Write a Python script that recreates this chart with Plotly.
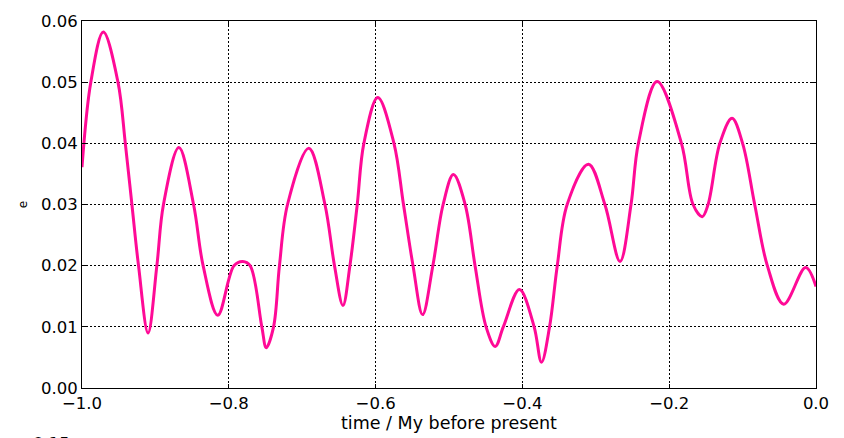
import plotly.graph_objects as go

# time (My before present) and eccentricity e
time = [-1.000, -0.988, -0.971, -0.951, -0.941, -0.932, -0.923, -0.910,
        -0.898, -0.889, -0.868, -0.848, -0.835, -0.815, -0.793, -0.781, -0.771, -0.755,
        -0.749, -0.739, -0.731, -0.720, -0.691, -0.669, -0.656, -0.6445, -0.635, -0.625,
        -0.616, -0.597, -0.575, -0.562, -0.549, -0.536, -0.522, -0.508, -0.494, -0.478,
        -0.4645, -0.4495, -0.437, -0.426, -0.404, -0.384, -0.374, -0.363, -0.3525, -0.339,
        -0.310, -0.2876, -0.267, -0.252, -0.242, -0.2165, -0.1833, -0.1675, -0.155, -0.147,
        -0.131, -0.1144, -0.100, -0.0835, -0.0663, -0.044, -0.0141, 0.000]
ecc = [0.0361, 0.0500, 0.0582, 0.0500, 0.0400, 0.0300, 0.0200, 0.0090,
       0.0200, 0.0300, 0.0393, 0.0300, 0.0200, 0.0119, 0.0200, 0.0207, 0.0200, 0.0100,
       0.0066, 0.0100, 0.0200, 0.0300, 0.0392, 0.0300, 0.0200, 0.0135, 0.0200, 0.0300,
       0.0400, 0.0475, 0.0400, 0.0300, 0.0200, 0.0120, 0.0200, 0.0300, 0.0349, 0.0300,
       0.0200, 0.0100, 0.0068, 0.0100, 0.0161, 0.0100, 0.0042, 0.0100, 0.0200, 0.0300,
       0.0366, 0.0300, 0.0207, 0.0300, 0.0400, 0.0501, 0.0400, 0.0300, 0.0280, 0.0300,
       0.0400, 0.0441, 0.0400, 0.0300, 0.0200, 0.0137, 0.0197, 0.0166]

x_ticks = [-1.0, -0.8, -0.6, -0.4, -0.2, 0.0]
y_ticks = [0.00, 0.01, 0.02, 0.03, 0.04, 0.05, 0.06]
cut_label = "0.15"

FONT = "DejaVu Sans"
FS = 16.5

fig = go.Figure()
fig.add_trace(go.Scatter(
    x=time, y=ecc, mode="lines",
    line=dict(color="#ff0a96", width=3, shape="spline", smoothing=1.0),
    showlegend=False,
))

axis_common = dict(
    showline=True, linecolor="black", linewidth=1, mirror="allticks",
    ticks="inside", ticklen=4, tickwidth=1, tickcolor="black",
    showgrid=True, gridcolor="black", gridwidth=1, griddash="2px,2px",
    zeroline=False,
    tickfont=dict(family=FONT, size=FS, color="black"),
)

fig.update_xaxes(
    range=[-1.0, 0.0], tickvals=x_ticks, tickformat=".1f",
    title=dict(text="time / My before present", font=dict(family=FONT, size=17.5, color="black"), standoff=1),
    **axis_common,
)
fig.update_yaxes(
    range=[0.0, 0.06], tickvals=y_ticks, tickformat=".2f",
    title=dict(text="e", font=dict(family=FONT, size=12, color="black"), standoff=10),
    **axis_common,
)

fig.add_annotation(
    text=cut_label, xref="paper", yref="paper", x=-0.0136, y=-0.121,
    xanchor="right", yanchor="top", showarrow=False,
    font=dict(family=FONT, size=FS, color="black"),
)

fig.update_layout(
    width=844, height=438,
    margin=dict(l=82, r=28, t=12, b=49),
    paper_bgcolor="white", plot_bgcolor="white",
    font=dict(family=FONT, color="black"),
)

fig.write_html("out.html")
